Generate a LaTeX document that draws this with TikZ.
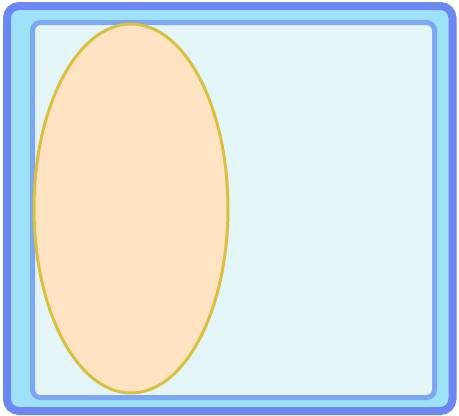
\documentclass[tikz,border=0pt]{standalone}
\usepackage{xcolor}
\definecolor{cellrim}{HTML}{6C87F0}
\definecolor{cellgap}{HTML}{9EE2FA}
\definecolor{cellline}{HTML}{7DA6F4}
\definecolor{cellfill}{HTML}{E4F5F8}
\definecolor{nucfill}{HTML}{FEE3C2}
\definecolor{nucline}{HTML}{D8C040}
\usepackage{tikz}
\usetikzlibrary{shapes.geometric}
\tikzset{
  cellwall/.style={draw=cellrim,fill=cellgap,line width=8pt,rounded corners=12pt,inner sep=0pt},
  cellbody/.style={draw=cellline,fill=cellfill,line width=5pt,rounded corners=8pt,inner sep=0pt},
  nucleus/.style={ellipse,draw=nucline,fill=nucfill,line width=3pt,inner sep=0pt},
}
\begin{document}
\begin{tikzpicture}[x=1pt,y=-1pt]
\useasboundingbox (0,0) rectangle (459,416);
 % outer wall and inner body
\node[cellwall,minimum width=445.5pt,minimum height=405pt] (wall) at (229.75,208.5) {};
\node[cellbody,minimum width=402pt,minimum height=375pt] (body) at (233.5,210) {};
\node[nucleus,minimum width=194pt,minimum height=369pt] (nuc) at (131,208.5) {};
\end{tikzpicture}
\end{document}
